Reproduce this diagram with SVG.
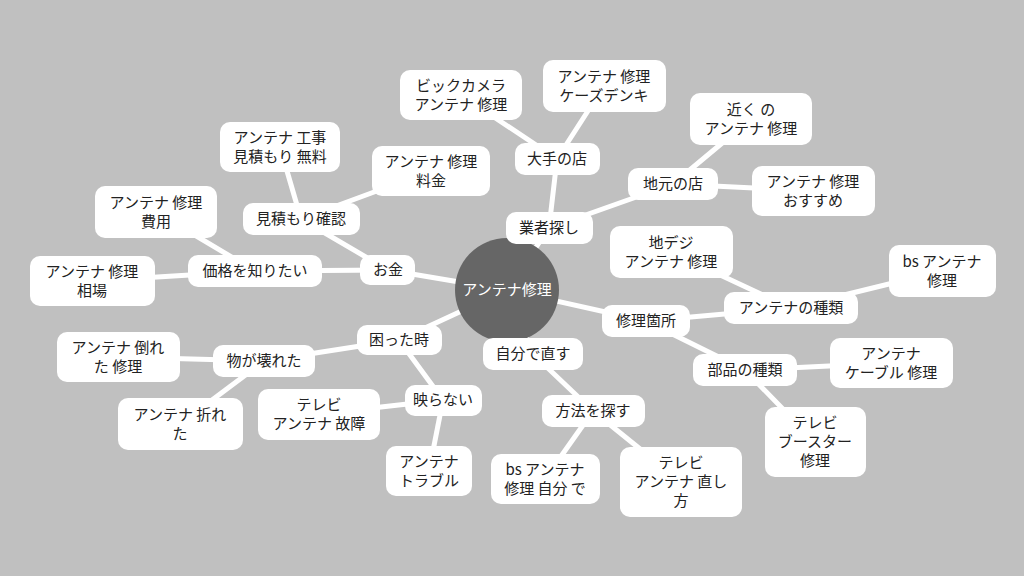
<svg xmlns="http://www.w3.org/2000/svg" width="1024" height="576" viewBox="0 0 1024 576">
<style>
.e line{stroke:#fff;stroke-width:5;stroke-linecap:round}
rect{fill:#fff}
text{font-family:"Noto Sans CJK JP","Noto Sans",sans-serif;font-size:15px;fill:#222;text-anchor:middle}
</style>
<rect width="1024" height="576" fill="#c0c0c0" style="fill:#c0c0c0"/>
<g class="e">
<line x1="507" y1="290" x2="388" y2="270"/><line x1="388" y1="270" x2="301" y2="219"/><line x1="301" y1="219" x2="280" y2="147"/><line x1="301" y1="219" x2="431" y2="171"/><line x1="388" y1="270" x2="255" y2="271"/><line x1="255" y1="271" x2="156" y2="212"/><line x1="255" y1="271" x2="92" y2="281"/>
<line x1="507" y1="290" x2="399" y2="340"/><line x1="399" y1="340" x2="264" y2="361"/><line x1="264" y1="361" x2="118" y2="357"/><line x1="264" y1="361" x2="180" y2="424"/><line x1="399" y1="340" x2="443" y2="400"/><line x1="443" y1="400" x2="319" y2="414"/><line x1="443" y1="400" x2="429" y2="471"/>
<line x1="507" y1="290" x2="533" y2="354"/><line x1="533" y1="354" x2="593" y2="411"/><line x1="593" y1="411" x2="545" y2="479"/><line x1="593" y1="411" x2="681" y2="482"/>
<line x1="507" y1="290" x2="646" y2="321"/><line x1="646" y1="321" x2="791" y2="308"/><line x1="791" y1="308" x2="671" y2="252"/><line x1="791" y1="308" x2="942" y2="271"/><line x1="646" y1="321" x2="745" y2="370"/><line x1="745" y1="370" x2="891" y2="363"/><line x1="745" y1="370" x2="815" y2="442"/>
<line x1="507" y1="290" x2="549" y2="228"/><line x1="549" y1="228" x2="673" y2="184"/><line x1="673" y1="184" x2="751" y2="119"/><line x1="673" y1="184" x2="813" y2="191"/><line x1="549" y1="228" x2="557" y2="159"/><line x1="557" y1="159" x2="461" y2="95"/><line x1="557" y1="159" x2="604" y2="86"/>
</g>
<g id="center"><circle cx="507" cy="290" r="52" fill="#666"/><text x="507" y="295" style="fill:#fff">アンテナ修理</text></g>
<g id="okane"><rect x="360" y="255" width="55" height="30" rx="10"/><text x="388" y="275">お金</text></g>
<g id="mitsumori"><rect x="243" y="203" width="117" height="32" rx="10"/><text x="301" y="224">見積もり確認</text></g>
<g id="n3"><rect x="220" y="122" width="120" height="50" rx="10"/><text x="280" y="143">アンテナ 工事</text><text x="280" y="162">見積もり 無料</text></g>
<g id="n4"><rect x="372" y="146" width="118" height="50" rx="10"/><text x="431" y="167">アンテナ 修理</text><text x="431" y="186">料金</text></g>
<g id="kakaku"><rect x="188" y="255" width="134" height="32" rx="10"/><text x="255" y="276">価格を知りたい</text></g>
<g id="n6"><rect x="95" y="186" width="122" height="52" rx="10"/><text x="156" y="208">アンテナ 修理</text><text x="156" y="227">費用</text></g>
<g id="n7"><rect x="30" y="256" width="125" height="50" rx="10"/><text x="92" y="277">アンテナ 修理</text><text x="92" y="296">相場</text></g>
<g id="komatta"><rect x="357" y="325" width="85" height="30" rx="10"/><text x="399" y="345">困った時</text></g>
<g id="kowareta"><rect x="213" y="345" width="102" height="32" rx="10"/><text x="264" y="366">物が壊れた</text></g>
<g id="n10"><rect x="57" y="332" width="123" height="50" rx="10"/><text x="118" y="353">アンテナ 倒れ</text><text x="118" y="372">た 修理</text></g>
<g id="n11"><rect x="118" y="398" width="125" height="52" rx="10"/><text x="180" y="420">アンテナ 折れ</text><text x="180" y="439">た</text></g>
<g id="utsuranai"><rect x="405" y="385" width="77" height="31" rx="10"/><text x="443" y="405">映らない</text></g>
<g id="n13"><rect x="258" y="389" width="122" height="51" rx="10"/><text x="319" y="410">テレビ</text><text x="319" y="429">アンテナ 故障</text></g>
<g id="n14"><rect x="386" y="446" width="86" height="50" rx="10"/><text x="429" y="467">アンテナ</text><text x="429" y="486">トラブル</text></g>
<g id="jibun"><rect x="483" y="338" width="100" height="32" rx="10"/><text x="533" y="359">自分で直す</text></g>
<g id="houhou"><rect x="542" y="395" width="103" height="32" rx="10"/><text x="593" y="416">方法を探す</text></g>
<g id="n17"><rect x="491" y="454" width="109" height="50" rx="10"/><text x="545" y="475">bs アンテナ</text><text x="545" y="494">修理 自分 で</text></g>
<g id="n18"><rect x="620" y="447" width="122" height="70" rx="10"/><text x="681" y="468">テレビ</text><text x="681" y="487">アンテナ 直し</text><text x="681" y="506">方</text></g>
<g id="shuri"><rect x="602" y="305" width="88" height="32" rx="10"/><text x="646" y="326">修理箇所</text></g>
<g id="shurui"><rect x="724" y="292" width="134" height="32" rx="10"/><text x="791" y="313">アンテナの種類</text></g>
<g id="n21"><rect x="610" y="226" width="123" height="52" rx="10"/><text x="671" y="248">地デジ</text><text x="671" y="267">アンテナ 修理</text></g>
<g id="n22"><rect x="889" y="245" width="107" height="52" rx="10"/><text x="942" y="267">bs アンテナ</text><text x="942" y="286">修理</text></g>
<g id="buhin"><rect x="693" y="354" width="104" height="32" rx="10"/><text x="745" y="375">部品の種類</text></g>
<g id="n24"><rect x="830" y="338" width="123" height="50" rx="10"/><text x="891" y="359">アンテナ</text><text x="891" y="378">ケーブル 修理</text></g>
<g id="n25"><rect x="765" y="407" width="101" height="70" rx="10"/><text x="815" y="428">テレビ</text><text x="815" y="447">ブースター</text><text x="815" y="466">修理</text></g>
<g id="gyousha"><rect x="506" y="212" width="87" height="32" rx="10"/><text x="549" y="233">業者探し</text></g>
<g id="jimoto"><rect x="628" y="168" width="90" height="32" rx="10"/><text x="673" y="189">地元の店</text></g>
<g id="n28"><rect x="690" y="93" width="122" height="52" rx="10"/><text x="751" y="115">近く の</text><text x="751" y="134">アンテナ 修理</text></g>
<g id="n29"><rect x="752" y="166" width="123" height="50" rx="10"/><text x="813" y="187">アンテナ 修理</text><text x="813" y="206">おすすめ</text></g>
<g id="oote"><rect x="515" y="143" width="85" height="32" rx="10"/><text x="557" y="164">大手の店</text></g>
<g id="n31"><rect x="400" y="70" width="122" height="50" rx="10"/><text x="461" y="91">ビックカメラ</text><text x="461" y="110">アンテナ 修理</text></g>
<g id="n32"><rect x="543" y="60" width="123" height="52" rx="10"/><text x="604" y="82">アンテナ 修理</text><text x="604" y="101">ケーズデンキ</text></g>
</svg>
